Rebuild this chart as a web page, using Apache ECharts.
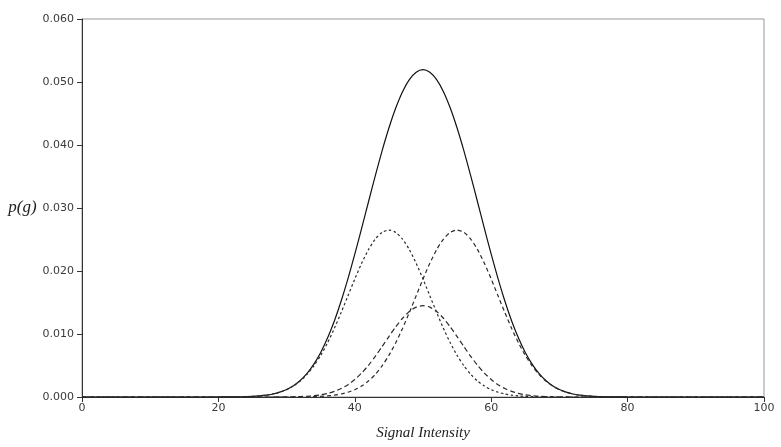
<!DOCTYPE html>
<html>
<head>
<meta charset="utf-8">
<script src="https://cdn.jsdelivr.net/npm/echarts@6/dist/echarts.min.js"></script>
<style>
html,body{margin:0;padding:0;background:#fff;}
#chart{width:781px;height:447px;}
</style>
</head>
<body>
<div id="chart"></div>
<script>
// x positions (signal intensity)
var xs = [0,5,10,
  15,16,17,18,19,20,21,22,23,24,25,26,27,28,29,30,31,32,33,34,35,36,37,38,39,40,
  41,42,43,44,45,46,47,48,49,50,51,52,53,54,55,56,57,58,59,60,61,62,63,64,65,66,
  67,68,69,70,71,72,73,74,75,76,77,78,79,80,81,82,83,84,85,
  90,95,100];

// total density (solid)
var total = [0,0,0,
  0,0,0,0,0,0,0.00001,0.00002,0.00003,0.00006,0.00010,0.00018,0.00029,0.00048,0.00077,0.00118,
  0.00179,0.00262,0.00374,0.00521,0.00706,0.00935,0.01207,0.01524,0.01879,0.02267,
  0.02676,0.03095,0.03511,0.03907,0.04270,0.04586,0.04846,0.05038,0.05155,0.05196,
  0.05155,0.05038,0.04846,0.04586,0.04270,0.03907,0.03511,0.03095,0.02676,0.02267,
  0.01879,0.01524,0.01207,0.00935,0.00706,0.00521,0.00374,0.00262,0.00179,0.00118,
  0.00077,0.00048,0.00029,0.00018,0.00010,0.00006,0.00003,0.00002,0.00001,
  0,0,0,0,0,0,
  0,0,0];

// component peaked near 45 (dotted)
var compLow = [0,0,0,
  0,0,0,0,0,0,0.00001,0.00002,0.00003,0.00006,0.00010,0.00018,0.00029,0.00048,0.00076,0.00116,
  0.00174,0.00253,0.00359,0.00494,0.00661,0.00860,0.01089,0.01342,0.01607,0.01873,
  0.02122,0.02339,0.02507,0.02613,0.02650,0.02613,0.02507,0.02339,0.02122,0.01873,
  0.01607,0.01342,0.01089,0.00860,0.00661,0.00494,0.00359,0.00253,0.00174,0.00116,
  0.00076,0.00048,0.00029,0.00018,0.00010,0.00006,0.00003,0.00002,0.00001,
  0,0,0,0,0,0,0,0,0,0,0,0,0,0,0,0,
  0,0,0];

// component peaked near 55 (dashed)
var compHigh = [0,0,0,
  0,0,0,0,0,0,0,0,0,0,0,0,0,0,0,0,
  0.00001,0.00002,0.00003,0.00006,0.00010,0.00018,0.00029,0.00048,0.00076,0.00116,
  0.00174,0.00253,0.00359,0.00494,0.00661,0.00860,0.01089,0.01342,0.01607,0.01873,
  0.02122,0.02339,0.02507,0.02613,0.02650,0.02613,0.02507,0.02339,0.02122,0.01873,
  0.01607,0.01342,0.01089,0.00860,0.00661,0.00494,0.00359,0.00253,0.00174,0.00116,
  0.00076,0.00048,0.00029,0.00018,0.00010,0.00006,0.00003,0.00002,0.00001,
  0,0,0,0,0,0,
  0,0,0];

// component peaked at 50 (dashed)
var compMid = [0,0,0,
  0,0,0,0,0,0,0,0,0,0,0,0,0,0,0.00001,0.00002,
  0.00004,0.00007,0.00012,0.00021,0.00035,0.00057,0.00089,0.00134,0.00196,0.00278,
  0.00380,0.00503,0.00645,0.00800,0.00959,0.01113,0.01250,0.01357,0.01426,0.01450,
  0.01426,0.01357,0.01250,0.01113,0.00959,0.00800,0.00645,0.00503,0.00380,0.00278,
  0.00196,0.00134,0.00089,0.00057,0.00035,0.00021,0.00012,0.00007,0.00004,0.00002,
  0.00001,0,0,0,0,0,0,0,0,0,0,0,0,0,0,
  0,0,0];

function pairs(ys){ return xs.map(function(x,i){ return [x, ys[i]]; }); }

var chart = echarts.init(document.getElementById('chart'), null, {renderer:'canvas'});
var labelFont = {color:'#3a3a3a', fontFamily:'DejaVu Sans', fontSize:11};
var lineBase = {type:'line', showSymbol:false, smooth:0.25, animation:false};

chart.setOption({
  backgroundColor:'#fff',
  animation:false,
  grid:{left:82, right:17, top:19, bottom:50, show:true, borderColor:'#999', borderWidth:1},
  xAxis:{
    type:'value', min:0, max:100, interval:20,
    name:'Signal Intensity', nameLocation:'middle', nameGap:29,
    nameTextStyle:{fontFamily:'Liberation Serif', fontStyle:'italic', fontSize:15, color:'#222'},
    axisLine:{show:true, lineStyle:{color:'#333', width:1}},
    axisTick:{show:true, inside:false, length:5, lineStyle:{color:'#333'}},
    axisLabel:Object.assign({margin:6}, labelFont),
    splitLine:{show:false}
  },
  yAxis:{
    type:'value', min:0, max:0.06, interval:0.01,
    name:'p(g)', nameLocation:'middle', nameRotate:0, nameGap:41,
    nameTextStyle:{fontFamily:'Liberation Serif', fontStyle:'italic', fontSize:17, color:'#222'},
    axisLine:{show:true, lineStyle:{color:'#333', width:1}},
    axisTick:{show:true, inside:false, length:5, lineStyle:{color:'#333'}},
    axisLabel:Object.assign({margin:8, formatter:function(v){return v.toFixed(3);}}, labelFont),
    splitLine:{show:false}
  },
  series:[
    Object.assign({name:'total', data:pairs(total), lineStyle:{color:'#111', width:1.2, type:'solid'}}, lineBase),
    Object.assign({name:'low', data:pairs(compLow), lineStyle:{color:'#2a2a2a', width:1.2, type:[2.5,2.5]}}, lineBase),
    Object.assign({name:'high', data:pairs(compHigh), lineStyle:{color:'#2a2a2a', width:1.2, type:[4,3]}}, lineBase),
    Object.assign({name:'mid', data:pairs(compMid), lineStyle:{color:'#2a2a2a', width:1.2, type:[5,3]}}, lineBase)
  ]
});
</script>
</body>
</html>
